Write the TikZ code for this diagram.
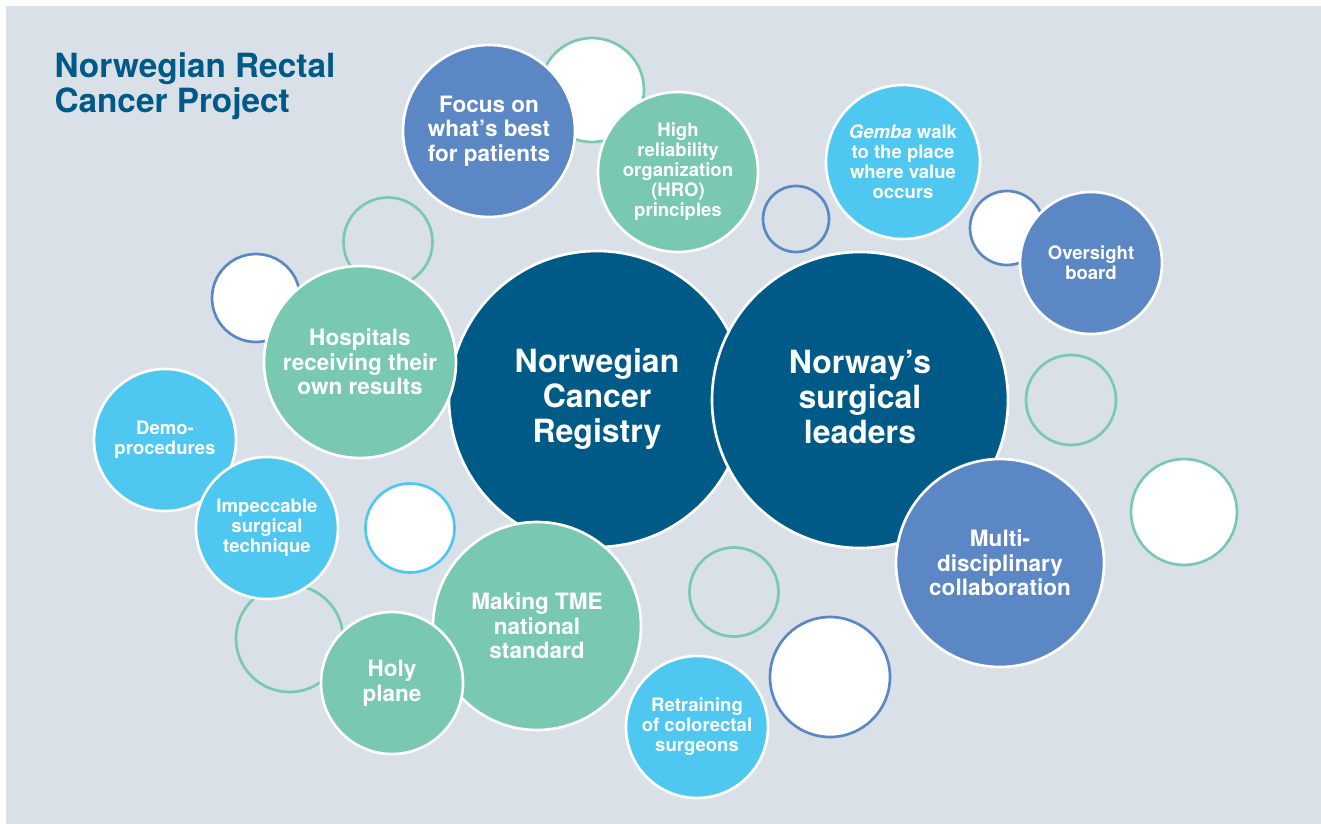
\documentclass[tikz,border=0pt]{standalone}
\usepackage{fontspec}
\setmainfont{TeX Gyre Heros}

\definecolor{nrcpnavy}{RGB}{0,90,135}
\definecolor{nrcpblue}{RGB}{91,135,197}
\definecolor{nrcpteal}{RGB}{120,200,178}
\definecolor{nrcpsky}{RGB}{78,200,240}
\definecolor{nrcpback}{RGB}{217,224,231}

\tikzset{every picture/.style={line width=0.75pt}}
\tikzset{
  bubble/.style={circle, draw=white, line width=2pt, inner sep=0pt, minimum size=#1*1.5pt, align=center, text=white},
  ring/.style={circle, line width=2pt, inner sep=0pt, minimum size=#1*1.5pt},
  bigtext/.style={font=\fontsize{24}{26.3}\selectfont\bfseries, text depth=5pt},
  midtext/.style={font=\fontsize{16.9}{18.5}\selectfont\bfseries},
  smalltext/.style={font=\fontsize{13.9}{15}\selectfont\bfseries}
}

\begin{document}
\begin{tikzpicture}[x=0.75pt,y=0.75pt,yscale=-1,xscale=1]
%Background
\useasboundingbox (0,0) rectangle (1321,824);
\fill[white] (0,0) rectangle (1321,824);
\fill[nrcpback] (6,6) rectangle (1321,824);

% Text Node
\node[anchor=base west, inner sep=0pt, align=left, text=nrcpnavy, font=\fontsize{25}{26.3}\selectfont\bfseries] (title) at (54,113) {Norwegian Rectal\\Cancer Project};

%Empty rings
\node[ring=52, draw=nrcpteal, fill=white] (ringa) at (592,90) {};
\node[ring=33, draw=nrcpblue] (ringb) at (796,219) {};
\node[ring=37, draw=nrcpblue, fill=white] (ringc) at (1007,228) {};
\node[ring=44.5, draw=nrcpteal] (ringd) at (388,242) {};
\node[ring=44, draw=nrcpblue, fill=white] (ringe) at (256,298) {};
\node[ring=53.5, draw=nrcpteal] (ringf) at (289.5,638.5) {};
\node[ring=44.5, draw=nrcpsky, fill=white] (ringg) at (410,528) {};
\node[ring=44.5, draw=nrcpteal] (ringh) at (734,592) {};
\node[ring=60, draw=nrcpblue, fill=white] (ringi) at (830,677) {};
\node[ring=45, draw=nrcpteal] (ringj) at (1071,400) {};
\node[ring=53, draw=nrcpteal, fill=white] (ringk) at (1184,512) {};

%Main bubbles
\node[bubble=148, fill=nrcpnavy, bigtext] (registry) at (597,399) {Norwegian\\Cancer\\Registry};
\node[bubble=148, fill=nrcpnavy, bigtext] (leaders) at (860,400) {Norway's\\surgical\\leaders};
\node[bubble=104, fill=nrcpblue, midtext] (multi) at (1000,563) {Multi-\\disciplinary\\collaboration};
\node[bubble=104, fill=nrcpteal, midtext] (tme) at (537,626) {Making TME\\national\\standard};
\node[bubble=71, fill=nrcpteal, midtext] (holy) at (392,683) {Holy\\plane};
\node[bubble=96, fill=nrcpteal, midtext] (hospitals) at (360,362) {Hospitals\\receiving their\\own results};
\node[bubble=86, fill=nrcpblue, midtext] (focus) at (489,131) {Focus on\\what's best\\for patients};
\node[bubble=80, fill=nrcpteal, smalltext] (hro) at (678,172) {High\\reliability\\organization\\(HRO)\\principles};
\node[bubble=77, fill=nrcpsky, smalltext] (gemba) at (903,162) {\textit{Gemba} walk\\to the place\\where value\\occurs};
\node[bubble=71, fill=nrcpblue, smalltext] (oversight) at (1091,263) {Oversight\\board};
\node[bubble=71, fill=nrcpsky, smalltext] (demo) at (165,440) {Demo-\\procedures};
\node[bubble=71, fill=nrcpsky, smalltext] (impeccable) at (267,528) {Impeccable\\surgical\\technique};
\node[bubble=71, fill=nrcpsky, smalltext] (retraining) at (697,727) {Retraining\\of colorectal\\surgeons};
\end{tikzpicture}
\end{document}
